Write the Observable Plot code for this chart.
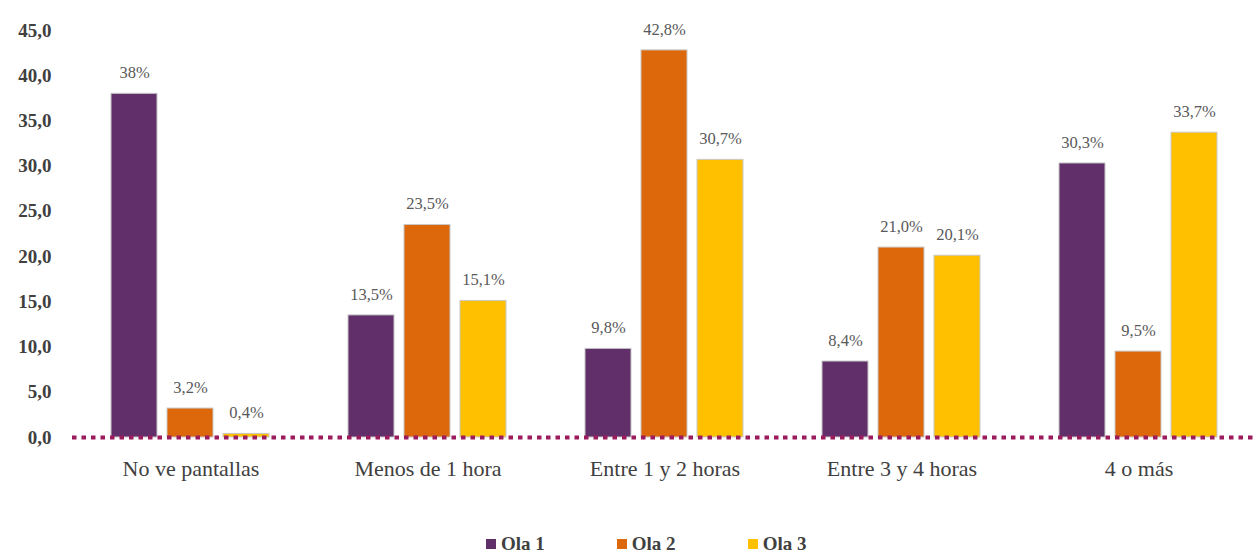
<!DOCTYPE html>
<html>
<head>
<meta charset="utf-8">
<script src="https://cdn.jsdelivr.net/npm/d3@7"></script>
<script src="https://cdn.jsdelivr.net/npm/@observablehq/plot@0.6"></script>
<style>
  html, body { margin: 0; padding: 0; background: #fff; }
  #chart { width: 1257px; }
  .legend { display: flex; justify-content: flex-start; gap: 72px; font-family: "Liberation Serif"; font-weight: bold; font-size: 19px; color: #404040; margin-top: 3px; padding-left: 486px; }
  .legend span.item { display: inline-flex; align-items: center; }
  .legend span.sw { width: 10px; height: 10px; display: inline-block; margin-right: 5px; }
</style>
</head>
<body>
<div id="chart"></div>
<script>
const categories = ["No ve pantallas", "Menos de 1 hora", "Entre 1 y 2 horas", "Entre 3 y 4 horas", "4 o más"];
const series = ["Ola 1", "Ola 2", "Ola 3"];
const ola1 = [38, 13.5, 9.8, 8.4, 30.3];
const ola2 = [3.2, 23.5, 42.8, 21.0, 9.5];
const ola3 = [0.4, 15.1, 30.7, 20.1, 33.7];
const labels1 = ["38%", "13,5%", "9,8%", "8,4%", "30,3%"];
const labels2 = ["3,2%", "23,5%", "42,8%", "21,0%", "9,5%"];
const labels3 = ["0,4%", "15,1%", "30,7%", "20,1%", "33,7%"];
const yTicks = [0, 5, 10, 15, 20, 25, 30, 35, 40, 45];
const colors = ["#61306a", "#dd680c", "#ffc000"];

const values = [ola1, ola2, ola3];
const labs = [labels1, labels2, labels3];
const data = [];
categories.forEach((c, i) => {
  series.forEach((s, j) => {
    data.push({cat: c, ola: s, value: values[j][i], label: labs[j][i]});
  });
});

const font = "Liberation Serif";
const chart = Plot.plot({
  width: 1257,
  height: 530,
  marginLeft: 71,
  marginRight: 0,
  marginTop: 30,
  marginBottom: 93,
  style: {fontFamily: font, background: "#fff"},
  fx: {domain: categories, padding: 0, label: null, axis: null},
  x: {domain: series, paddingInner: 0.17, paddingOuter: 0.68, axis: null},
  y: {domain: [0, 45], ticks: yTicks, label: null},
  color: {domain: series, range: colors},
  marks: [
    Plot.barY(data, {fx: "cat", x: "ola", y: "value", fill: "ola", stroke: "#c8c8c8", strokeWidth: 1}),
    Plot.text(data, {fx: "cat", x: "ola", y: "value", text: "label", dy: -21, fontSize: 16.5, fill: "#595959", fontFamily: font}),
    Plot.axisY({ticks: yTicks, tickSize: 0, tickPadding: 0, dx: -21, tickFormat: d => d.toFixed(1).replace(".", ","), fontSize: 19, fontWeight: "bold", fill: "#404040", textAnchor: "end", fontFamily: font}),
    Plot.axisFx({anchor: "bottom", tickSize: 0, tickPadding: 23, fontSize: 22, fill: "#404040", label: null, fontFamily: font}),
    Plot.ruleY([0], {stroke: "#9b1b5c", strokeWidth: 4, strokeDasharray: "4.5,5"})
  ]
});
const root = document.getElementById("chart");
root.appendChild(chart);
const legend = document.createElement("div");
legend.className = "legend";
series.forEach((s, j) => {
  const item = document.createElement("span");
  item.className = "item";
  const sw = document.createElement("span");
  sw.className = "sw";
  sw.style.background = colors[j];
  item.appendChild(sw);
  item.appendChild(document.createTextNode(s));
  legend.appendChild(item);
});
root.appendChild(legend);
</script>
</body>
</html>
